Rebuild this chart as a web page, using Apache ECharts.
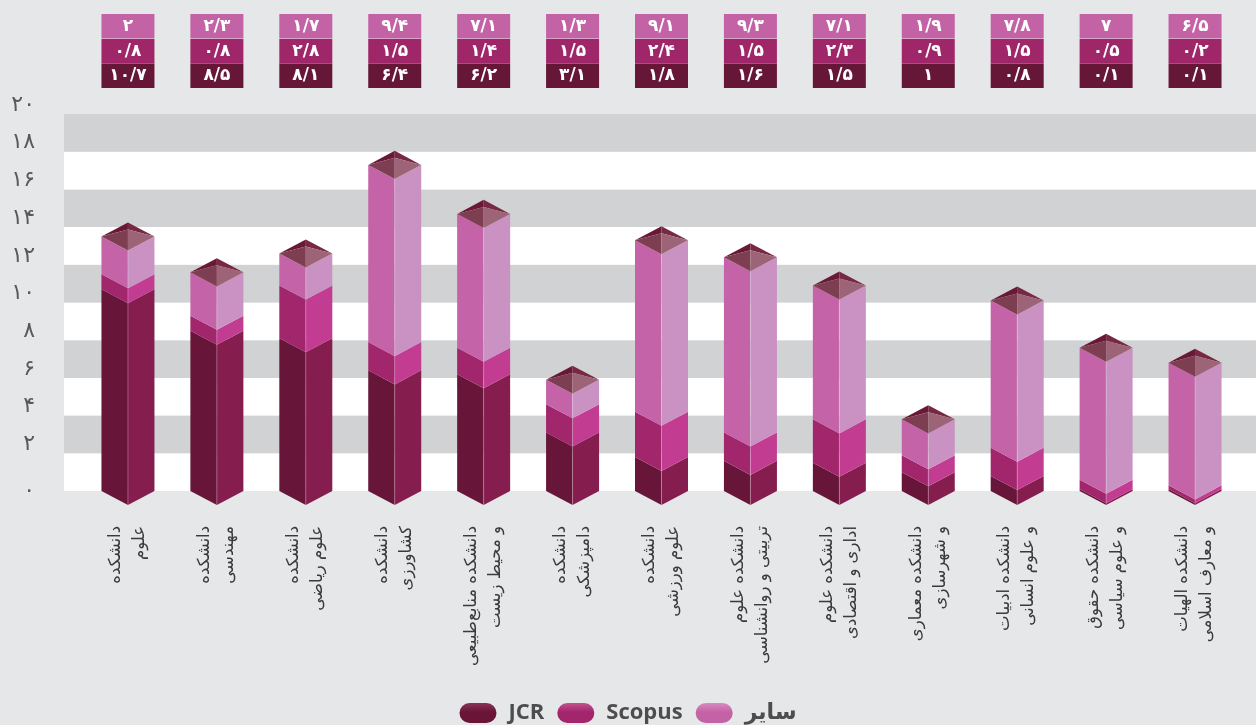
<!DOCTYPE html>
<html>
<head>
<meta charset="utf-8">
<script src="https://cdn.jsdelivr.net/npm/echarts@6/dist/echarts.min.js"></script>
<style>
  html, body { margin: 0; padding: 0; background: #e6e7e8; }
  #chart { width: 1256px; height: 725px; }
</style>
</head>
<body>
<div id="chart"></div>
<script>
var categories = [
    'دانشکده\nعلوم',
    'دانشکده\nمهندسی',
    'دانشکده\nعلوم ریاضی',
    'دانشکده\nکشاورزی',
    'دانشکده منابع‌طبیعی\nو محیط زیست',
    'دانشکده\nدامپزشکی',
    'دانشکده\nعلوم ورزشی',
    'دانشکده علوم\nتربیتی و روانشناسی',
    'دانشکده علوم\nاداری و اقتصادی',
    'دانشکده معماری\nو شهرسازی',
    'دانشکده ادبیات\nو علوم انسانی',
    'دانشکده حقوق\nو علوم سیاسی',
    'دانشکده الهیات\nو معارف اسلامی'
];
var jcrValues = [10.7, 8.5, 8.1, 6.4, 6.2, 3.1, 1.8, 1.6, 1.5, 1, 0.8, 0.1, 0.1];
var scopusValues = [0.8, 0.8, 2.8, 1.5, 1.4, 1.5, 2.4, 1.5, 2.3, 0.9, 1.5, 0.5, 0.2];
var otherValues = [2, 2.3, 1.7, 9.4, 7.1, 1.3, 9.1, 9.3, 7.1, 1.9, 7.8, 7, 6.5];
var seriesNames = ['JCR', 'Scopus', 'سایر'];

var FONT = "'DejaVu Sans', 'Noto Sans', sans-serif";

// persian digits, "/" as decimal mark
function fa(v) {
    return String(v).replace('.', '/').replace(/\d/g, function (d) {
        return '۰۱۲۳۴۵۶۷۸۹'[+d];
    });
}

var styles = [
    {left: '#67163a', right: '#851e4f', box: '#661636', row: 63.5},
    {left: '#a2266b', right: '#c23c92', box: '#a0266a', row: 39},
    {left: '#c463a7', right: '#c992c3', box: '#c462a6', row: 14}
];

function makeRender(st, isTop) {
    return function (params, api) {
        var i = api.value(0);
        var base = api.value(1);
        var val = api.value(2);
        var p0 = api.coord([i, base]);
        var p1 = api.coord([i, base + val]);
        var cx = p0[0];
        var hw = api.size([1, 0])[0] * 0.298;
        var d = hw * 0.53;
        var yb = p0[1], yt = p1[1];
        var children = [
            {type: 'polygon', shape: {points: [[cx - hw, yt], [cx, yt + d], [cx, yb + d], [cx - hw, yb]]},
                style: {fill: st.left}},
            {type: 'polygon', shape: {points: [[cx, yt + d], [cx + hw, yt], [cx + hw, yb], [cx, yb + d]]},
                style: {fill: st.right}},
            {type: 'line', shape: {x1: cx, y1: yt + d, x2: cx, y2: yb + d},
                style: {stroke: 'rgba(255,255,255,0.25)', lineWidth: 1}}
        ];
        if (isTop) {
            var apex = [cx, yt - d * 0.5];
            var L = [cx - hw, yt], R = [cx + hw, yt], B = [cx, yt - d], F = [cx, yt + d];
            children.push(
                {type: 'polygon', shape: {points: [L, B, apex]}, style: {fill: '#6a1838'}},
                {type: 'polygon', shape: {points: [B, R, apex]}, style: {fill: '#772843'}},
                {type: 'polygon', shape: {points: [L, apex, F]}, style: {fill: '#7e3e51'}},
                {type: 'polygon', shape: {points: [apex, R, F]}, style: {fill: '#9c6476'}}
            );
        }
        // value box at the top
        children.push({
            type: 'rect',
            shape: {x: cx - hw, y: st.row, width: hw * 2, height: 24.5},
            style: {fill: st.box}
        }, {
            type: 'text',
            x: cx, y: st.row + 12.5,
            style: {
                text: fa(val), fill: '#ffffff', font: 'bold 17px ' + FONT,
                align: 'center', verticalAlign: 'middle'
            }
        });
        return {type: 'group', children: children};
    };
}

var stacks = [jcrValues, scopusValues, otherValues];
var series = [];
for (var s = 0; s < 3; s++) {
    var data = [];
    for (var i = 0; i < categories.length; i++) {
        var base = 0;
        for (var k = 0; k < s; k++) base += stacks[k][i];
        data.push([i, base, stacks[s][i]]);
    }
    series.push({
        name: seriesNames[s],
        type: 'custom',
        xAxisIndex: 1,
        yAxisIndex: 1,
        clip: false,
        encode: {x: 0, y: 2},
        itemStyle: {color: styles[s].box},
        renderItem: makeRender(styles[s], s === 2),
        data: data
    });
}

function pill(c1, c2) {
    return new echarts.graphic.LinearGradient(0, 0, 0, 1, [
        {offset: 0, color: c2},
        {offset: 0.45, color: c1},
        {offset: 1, color: c1}
    ]);
}

var capsule = 'path://M10,0 L27,0 A10,10 0 0 1 27,20 L10,20 A10,10 0 0 1 10,0 Z';

var myChart = echarts.init(document.getElementById('chart'));
option = {
    backgroundColor: '#e6e7e8',
    animation: false,
    grid: [
        {left: 64, right: 0, top: 114, bottom: 234},
        {left: 83.5, right: 16.5, top: 114, bottom: 234}
    ],
    xAxis: [
        {type: 'value', gridIndex: 0, show: false, min: 0, max: 1},
        {
            type: 'category', gridIndex: 1, data: categories,
            axisLine: {show: false}, axisTick: {show: false},
            axisLabel: {
                interval: 0, rotate: 90, margin: 35,
                fontFamily: FONT, fontSize: 16.5, lineHeight: 24, color: '#3a3a3a'
            }
        }
    ],
    yAxis: [
        {
            type: 'value', gridIndex: 0, min: 0, max: 20, interval: 2,
            axisLine: {show: false}, axisTick: {show: false}, splitLine: {show: false},
            splitArea: {show: true, areaStyle: {color: ['#ffffff', '#d1d2d4']}},
            axisLabel: {
                margin: 29, color: '#58595b',
                formatter: function (v) { return v === 0 ? '{z|' + fa(v) + '}' : '{n|' + fa(v) + '}'; },
                rich: {
                    n: {fontFamily: FONT, fontSize: 22, color: '#58595b', padding: [0, 0, 18, 0]},
                    z: {fontFamily: FONT, fontSize: 22, color: '#58595b'}
                }
            }
        },
        {type: 'value', gridIndex: 1, min: 0, max: 20, show: false}
    ],
    legend: {
        top: 697,
        left: 'center',
        icon: capsule,
        itemWidth: 37,
        itemHeight: 21,
        itemGap: 13,
        textStyle: {
            fontFamily: "'Open Sans', 'DejaVu Sans', sans-serif",
            fontSize: 22, fontWeight: 'bold', color: '#4d4d4f', padding: [0, 0, 0, 7]
        },
        data: [
            {name: 'JCR', itemStyle: {color: pill('#6a1538', '#8a3358')}},
            {name: 'Scopus', itemStyle: {color: pill('#a3256c', '#c2538e')}},
            {name: 'سایر', itemStyle: {color: pill('#c462a6', '#d88cc2')}}
        ]
    },
    series: series
};

myChart.setOption(option);
</script>
</body>
</html>
